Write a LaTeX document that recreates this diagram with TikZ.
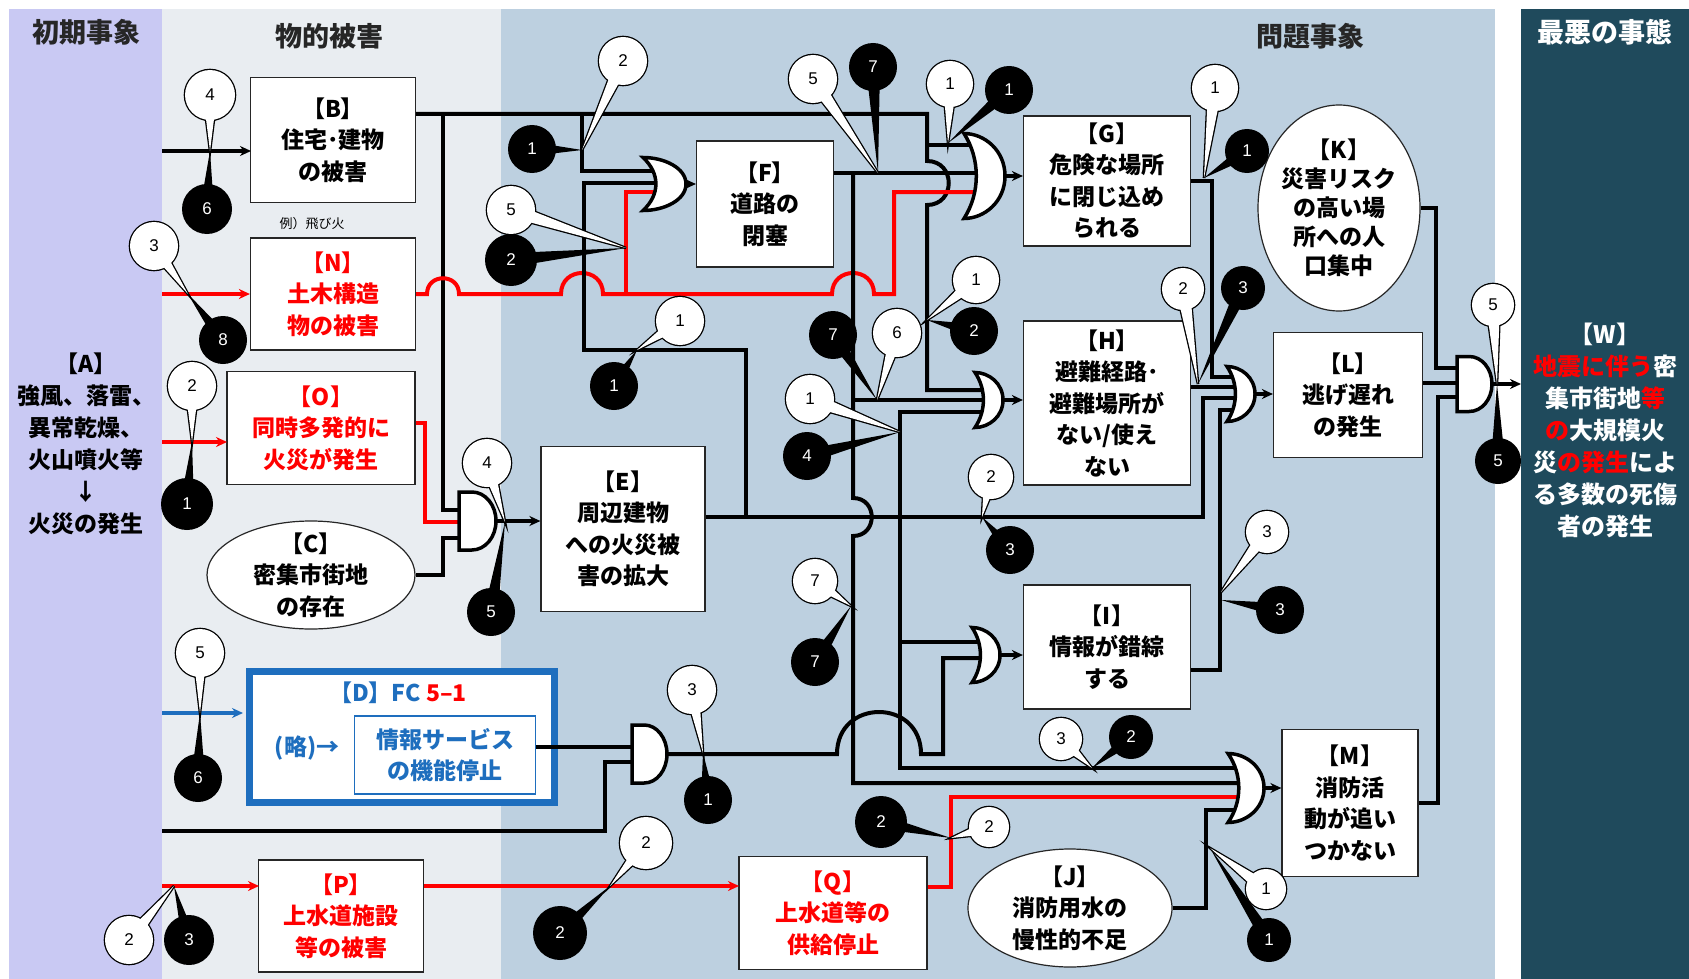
\documentclass[tikz,border=0pt]{standalone}
\usepackage{fontspec}
\setmainfont{Noto Sans CJK JP}
\newfontfamily\numfont{Liberation Sans}
\usetikzlibrary{positioning,calc,arrows.meta,shapes.geometric}

\definecolor{initband}{RGB}{201,201,243}
\definecolor{physband}{RGB}{233,237,241}
\definecolor{probband}{RGB}{189,208,224}
\definecolor{worstband}{RGB}{31,74,92}
\definecolor{fcred}{RGB}{255,0,0}
\definecolor{fcblue}{RGB}{30,110,190}

% OR gate: name, left x, centre y, width, height
\newcommand{\orgate}[5]{%
  \draw[gate] ({#2},{#3-#5/2})
    .. controls ({#2+0.5*#4},{#3-#5/2}) and ({#2+#4},{#3-0.3*#5}) .. ({#2+#4},{#3})
    .. controls ({#2+#4},{#3+0.3*#5}) and ({#2+0.5*#4},{#3+#5/2}) .. ({#2},{#3+#5/2})
    .. controls ({#2+0.4*#4},{#3+0.2*#5}) and ({#2+0.4*#4},{#3-0.2*#5}) .. cycle;
  \coordinate (#1) at ({#2+#4},{#3});}
% AND gate: name, left x, centre y, width, height
\newcommand{\andgate}[5]{%
  \draw[gate] ({#2},{#3-#5/2}) -- ({#2+0.35*#4},{#3-#5/2})
    .. controls ({#2+0.71*#4},{#3-#5/2}) and ({#2+#4},{#3-0.276*#5}) .. ({#2+#4},{#3})
    .. controls ({#2+#4},{#3+0.276*#5}) and ({#2+0.71*#4},{#3+#5/2}) .. ({#2+0.35*#4},{#3+#5/2})
    -- ({#2},{#3+#5/2}) -- cycle;
  \coordinate (#1) at ({#2+#4},{#3});}

\begin{document}
\begin{tikzpicture}[x=1pt,y=-1pt,>={Stealth[length=11pt,width=10pt]}]
    \tikzstyle{wire}=[line width=4pt]
    \tikzstyle{redwire}=[wire,draw=fcred]
    \tikzstyle{gate}=[draw=black,fill=white,line width=3.5pt]
    \tikzstyle{txt}=[align=center,inner sep=0pt,font=\bfseries\fontsize{23}{31.5}\selectfont]
    \tikzstyle{event}=[txt,draw=black!85,line width=1.2pt,fill=white]
    \tikzstyle{cond}=[draw=black!85,line width=1.2pt,fill=white,ellipse,inner sep=0pt]
    \tikzstyle{hdr}=[inner sep=0pt,text=black!85,font=\bfseries\fontsize{27}{30}\selectfont]
    \tikzstyle{num}=[inner sep=0pt,font=\numfont\fontsize{17}{17}\selectfont]

    \useasboundingbox (0,0) rectangle (1689,979);
    % the four bands
    \fill[white] (0,0) rectangle (1689,979);
    \fill[initband] (9,9) rectangle (162,979);
    \fill[physband] (162,9) rectangle (501,979);
    \fill[probband] (501,9) rectangle (1495,979);
    \fill[worstband] (1521,9) rectangle (1689,979);

    \node[hdr] (h1) at (86,32) {初期事象};
    \node[hdr] (h2) at (329,36) {物的被害};
    \node[hdr] (h3) at (1310,36) {問題事象};
    \node[hdr,text=white] (h4) at (1605,32) {最悪の事態};

    % events
    \node[txt,font=\bfseries\fontsize{23}{32}\selectfont] (A) at (86,444)
        {【A】\\強風、落雷、\\異常乾燥、\\火山噴火等\\↓\\火災の発生};
    \node[event,minimum width=165pt,minimum height=125pt] (B) at (333,140) {【B】\\住宅･建物\\の被害};
    \node[inner sep=0pt,font=\fontsize{13}{13}\selectfont] (ex) at (312,224) {例）飛び火};
    \node[event,text=fcred,minimum width=165pt,minimum height=112pt] (N) at (333,294) {【N】\\土木構造\\物の被害};
    \node[event,text=fcred,minimum width=188pt,minimum height=113pt] (O) at (321,428) {【O】\\同時多発的に\\火災が発生};
    \node[cond,minimum width=208pt,minimum height=108pt] (C) at (311,575) {};
    \node[txt] (C-t) at (C) {【C】\\密集市街地\\の存在};
    \node[event,text=fcred,minimum width=165pt,minimum height=112pt] (P) at (341,916) {【P】\\上水道施設\\等の被害};
    \node[event,minimum width=164pt,minimum height=165pt] (E) at (623,529) {【E】\\周辺建物\\への火災被\\害の拡大};
    \node[event,minimum width=137pt,minimum height=126pt] (F) at (765,204) {【F】\\道路の\\閉塞};
    \node[event,minimum width=167pt,minimum height=130pt] (G) at (1107,181) {【G】\\危険な場所\\に閉じ込め\\られる};
    \node[event,minimum width=167pt,minimum height=164pt] (H) at (1107,403) {【H】\\避難経路･\\避難場所が\\ない/使え\\ない};
    \node[event,minimum width=167pt,minimum height=124pt] (I) at (1107,647) {【I】\\情報が錯綜\\する};
    \node[cond,minimum width=162pt,minimum height=206pt] (K) at (1339,208) {};
    \node[txt,font=\bfseries\fontsize{23}{29}\selectfont] (K-t) at (K) {【K】\\災害リスク\\の高い場\\所への人\\口集中};
    \node[event,minimum width=149pt,minimum height=125pt] (L) at (1348,395) {【L】\\逃げ遅れ\\の発生};
    \node[event,minimum width=136pt,minimum height=147pt] (M) at (1350,803) {【M】\\消防活\\動が追い\\つかない};
    \node[cond,minimum width=204pt,minimum height=118pt] (J) at (1070,908) {};
    \node[txt] (J-t) at (J) {【J】\\消防用水の\\慢性的不足};
    \node[event,text=fcred,minimum width=188pt,minimum height=113pt] (Q) at (833,913) {【Q】\\上水道等の\\供給停止};

    % FC 5-1
    \node[draw=fcblue,fill=white,line width=7pt,minimum width=305pt,minimum height=131pt] (D) at (402,737) {};
    \node[txt,text=fcblue] (D-t) at (398,693) {【D】FC \textcolor{fcred}{5–1}};
    \node[txt,text=fcblue] (D-r) at (307,748) {(略)→};
    \node[event,draw=fcblue,text=fcblue,minimum width=181pt,minimum height=78pt] (D1) at (445,755) {情報サービス\\の機能停止};

    \node[txt,text=white,font=\bfseries\fontsize{24}{32}\selectfont] (W) at (1605,430)
        {【W】\\\textcolor{fcred}{地震に伴う}密\\集市街地\textcolor{fcred}{等}\\\textcolor{fcred}{の}大規模火\\災\textcolor{fcred}{の発生}によ\\る多数の死傷\\者の発生};

    % inputs from the initial event
    \draw[wire,->] (162,151) -- (251,151);
    \draw[redwire,->] (162,294) -- (N.west);
    \draw[redwire,->] (162,442) -- (227,442);
    \draw[wire,->,fcblue] (162,713) -- (243,713);
    \draw[redwire,->] (162,886) -- (259,886);
    \draw[wire] (162,831) -- (605,831) -- (605,762) -- (636,762);

    % B
    \draw[wire] (416,114) -- (927,114) -- (927,161) .. controls (956,161) and (956,205) .. (927,205)
        -- (927,390) -- (986,390);
    \draw[wire] (927,145) -- (978,145);
    \draw[wire] (443,114) -- (443,510) -- (463,510);
    \draw[wire] (582,114) -- (582,171) -- (660,171);
    % C, O
    \draw[wire] (C.east) -| (443,538) -- (463,538);
    \draw[redwire] ([yshift=5pt]O.east) -- (425,423) -- (425,522) -- (463,522);
    % N
    \draw[redwire] (N.east) -- (427,294) .. controls (427,273) and (459,273) .. (459,294)
        -- (561,294) .. controls (561,266) and (603,266) .. (603,294)
        -- (832,294) .. controls (832,266) and (874,266) .. (874,294)
        -- (894,294) -- (894,192) -- (978,192);
    \draw[redwire] (626,294) -- (626,192) -- (660,192);
    % E
    \draw[wire] ([yshift=12pt]E.east) -- (1203,517) -- (1203,398) -- (1238,398);
    \draw[wire] (746,517) -- (746,350) -- (584,350) -- (584,183) -- (660,183);
    % F
    \draw[wire] ([yshift=31pt]F.east) -- (978,173);
    \draw[wire] (853,173) -- (853,498) .. controls (878,498) and (878,536) .. (853,536)
        -- (853,783) -- (1242,783);
    \draw[wire] (853,400) -- (986,400);
    \draw[wire] (986,412) -- (900,412) -- (900,768) -- (1242,768);
    \draw[wire] (900,642) -- (983,642);
    % D
    \draw[wire] ([yshift=8pt]D1.east) -- (636,747);
    % G, H, I, J, K, L, M
    \draw[wire] (G.east) -| (1212,377) -- (1238,377);
    \draw[wire] ([yshift=16pt]H.east) -- (1238,387);
    \draw[wire] ([yshift=-23pt]I.east) -| (1220,410) -- (1238,410);
    \draw[wire] (K.east) -| (1436,368) -- (1460,368);
    \draw[wire] ([yshift=12pt]L.east) -- (1460,383);
    \draw[wire] (M.east) -| (1438,397) -- (1460,397);
    \draw[wire] (J.east) -| (1206,810) -- (1242,810);
    % P, Q
    \draw[redwire,->] ([yshift=30pt]P.east) -- (739,886);
    \draw[redwire] ([yshift=26pt]Q.east) -- (951,887) -- (951,797) -- (1242,797);

    % gates
    \andgate{andE}{459}{521}{37}{58}
    \andgate{andD}{632}{754}{35}{58}
    \andgate{andW}{1457}{384}{35}{55}
    \orgate{orF}{643}{184}{43}{53}
    \orgate{orG}{964}{176}{41}{85}
    \orgate{orH}{975}{400}{28}{55}
    \orgate{orL}{1227}{394}{28}{55}
    \orgate{orM}{1228}{788}{36}{69}
    \draw[wire] (andD) -- (837,754) .. controls (837,698) and (921,698) .. (921,754)
        -- (943,754) -- (943,658) -- (983,658);
    \orgate{orI}{972}{655}{28}{55}

    % gate outputs
    \draw[wire,->] (andE) -- (E.west |- andE);
    \draw[wire,->] (orF) -- (F.west |- orF);
    \draw[wire,->] (orG) -- (G.west |- orG);
    \draw[wire,->] (orH) -- (H.west |- orH);
    \draw[wire,->] (orI) -- (I.west |- orI);
    \draw[wire,->] (orL) -- (L.west |- orL);
    \draw[wire,->] (orM) -- (M.west |- orM);
    \draw[wire,->] (andW) -- (1521,384);

    % white callouts
    \foreach \cx/\cy/\tx/\ty/\lab/\rad [count=\i] in {
        210/95/210/151/4/25, 154/246/188/294/3/24, 192/386/192/442/2/24,
        200/653/200/713/5/24, 129/940/174/886/2/24, 623/61/582/150/2/24,
        511/210/626/248/5/24, 813/79/878/173/5/24, 950/84/948/143/1/23,
        1215/88/1204/178/1/23, 976/280/927/320/1/23, 897/333/877/400/6/24,
        810/399/900/432/1/24, 1183/289/1198/384/2/21, 1493/305/1497/384/5/21,
        680/321/637/350/1/24, 487/463/505/522/4/24, 991/477/982/517/2/22,
        815/581/851/606/7/22, 1267/532/1221/592/3/21, 692/690/703/753/3/24,
        1061/739/1092/768/3/21, 989/827/951/838/2/20, 646/843/610/886/2/26,
        1266/889/1210/848/1/20}
    {
        \draw[line width=2.6pt] (\cx,\cy) circle[radius=\rad];
        \draw[line width=2.6pt] ($(\cx,\cy)!7pt!90:(\tx,\ty)$) -- (\tx,\ty) -- ($(\cx,\cy)!7pt!-90:(\tx,\ty)$) -- cycle;
        \fill[white] (\cx,\cy) circle[radius=\rad];
        \fill[white] ($(\cx,\cy)!7pt!90:(\tx,\ty)$) -- (\tx,\ty) -- ($(\cx,\cy)!7pt!-90:(\tx,\ty)$) -- cycle;
        \node[num] (cw-\i) at (\cx,\cy) {\lab};
    }
    % black callouts
    \foreach \cx/\cy/\tx/\ty/\lab/\rad [count=\i] in {
        207/209/210/151/6/25, 223/340/188/294/8/24, 187/504/192/442/1/26,
        198/778/200/713/6/24, 189/940/174/886/3/25, 532/149/582/150/1/24,
        511/260/626/248/2/26, 873/67/878/173/7/24, 1009/90/948/143/1/24,
        1247/151/1204/178/1/22, 974/331/927/320/2/24, 833/335/877/400/7/24,
        807/456/900/432/4/24, 1243/288/1198/384/3/22, 1498/461/1497/384/5/23,
        614/386/637/350/1/24, 491/612/505/522/5/24, 1010/550/982/517/3/24,
        815/662/851/606/7/24, 1280/610/1221/600/3/24, 708/800/703/753/1/24,
        1131/737/1092/768/2/22, 881/822/951/838/2/26, 560/933/610/886/2/27,
        1269/940/1210/848/1/22}
    {
        \fill (\cx,\cy) circle[radius=\rad];
        \fill ($(\cx,\cy)!7pt!90:(\tx,\ty)$) -- (\tx,\ty) -- ($(\cx,\cy)!7pt!-90:(\tx,\ty)$) -- cycle;
        \node[num,text=white] (cb-\i) at (\cx,\cy) {\lab};
    }
\end{tikzpicture}
\end{document}
